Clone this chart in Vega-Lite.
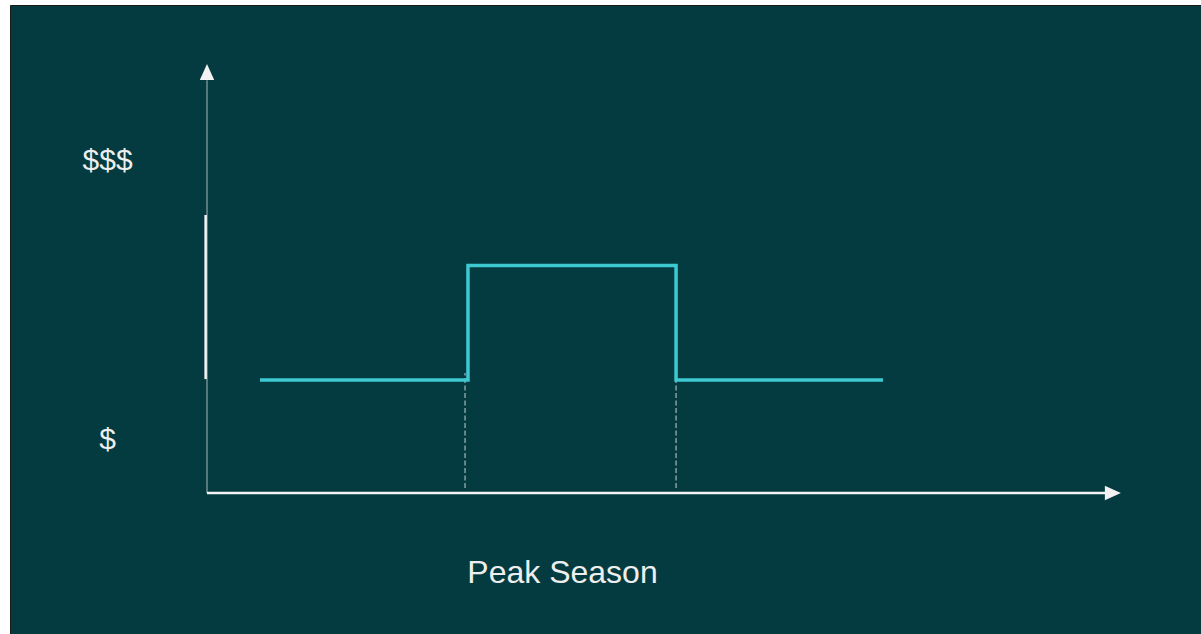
{
  "$schema": "https://vega.github.io/schema/vega-lite/v6.json",
  "autosize": {"type": "fit", "contains": "padding"},
  "width": 1201,
  "height": 634,
  "padding": {"left": 10, "top": 5, "right": 0, "bottom": 0},
  "background": "#ffffff",
  "config": {
    "view": {"fill": "#033b40", "stroke": "#1a1a1a", "strokeWidth": 1},
    "text": {"font": "Liberation Sans", "color": "#eeeeee"}
  },
  "datasets": {
    "price": [
      {"t": 5.79, "p": 26.28},
      {"t": 28.52, "p": 26.28},
      {"t": 28.52, "p": 52.91},
      {"t": 51.26, "p": 52.91},
      {"t": 51.26, "p": 26.28},
      {"t": 73.88, "p": 26.28}
    ],
    "bounds": [
      {"t": 28.2, "p0": 1.16, "p1": 27.9},
      {"t": 51.26, "p0": 1.16, "p1": 27.9}
    ],
    "yaxis": [{"t": 0, "p0": 0, "p1": 96}],
    "yband": [{"t": -0.15, "p0": 26.5, "p1": 64.65}],
    "xaxis": [{"t0": 0, "t1": 98.3, "p": 0}],
    "uparrow": [{"t": 0, "p": 97.9}],
    "rightarrow": [{"t": 99.0, "p": 0}],
    "pricelabels": [
      {"t": -10.87, "p": 75.12, "label": "$$$"},
      {"t": -10.87, "p": 10.23, "label": "$"}
    ],
    "seasonlabel": [
      {"t": 38.85, "p": -20.93, "label": "Peak Season"}
    ]
  },
  "layer": [
    {
      "data": {"name": "yaxis"},
      "mark": {"type": "rule", "color": "#a9b8b8", "strokeWidth": 1},
      "encoding": {
        "x": {"field": "t", "type": "quantitative", "scale": {"domain": [-21.53, 108.63], "nice": false, "zero": false}, "axis": null},
        "y": {"field": "p0", "type": "quantitative", "scale": {"domain": [-32.79, 113.49], "nice": false, "zero": false}, "axis": null},
        "y2": {"field": "p1"}
      }
    },
    {
      "data": {"name": "yband"},
      "mark": {"type": "rule", "color": "#f4f4f4", "strokeWidth": 2.5},
      "encoding": {
        "x": {"field": "t", "type": "quantitative"},
        "y": {"field": "p0", "type": "quantitative"},
        "y2": {"field": "p1"}
      }
    },
    {
      "data": {"name": "xaxis"},
      "mark": {"type": "rule", "color": "#f4f4f4", "strokeWidth": 2.5},
      "encoding": {
        "x": {"field": "t0", "type": "quantitative"},
        "x2": {"field": "t1"},
        "y": {"field": "p", "type": "quantitative"}
      }
    },
    {
      "data": {"name": "bounds"},
      "mark": {"type": "rule", "color": "#c9d3d3", "strokeWidth": 1, "strokeDash": [5, 2.5]},
      "encoding": {
        "x": {"field": "t", "type": "quantitative"},
        "y": {"field": "p0", "type": "quantitative"},
        "y2": {"field": "p1"}
      }
    },
    {
      "data": {"name": "price"},
      "mark": {"type": "line", "color": "#3ec9d1", "strokeWidth": 3.5, "strokeJoin": "miter", "strokeCap": "butt"},
      "encoding": {
        "x": {"field": "t", "type": "quantitative"},
        "y": {"field": "p", "type": "quantitative"},
        "order": {"value": 0}
      }
    },
    {
      "data": {"name": "uparrow"},
      "mark": {"type": "point", "shape": "M0,-1L-0.9,1L0.9,1Z", "filled": true, "color": "#f2f2f2", "opacity": 1, "size": 256},
      "encoding": {
        "x": {"field": "t", "type": "quantitative"},
        "y": {"field": "p", "type": "quantitative"}
      }
    },
    {
      "data": {"name": "rightarrow"},
      "mark": {"type": "point", "shape": "M1,0L-1,-0.9L-1,0.9Z", "filled": true, "color": "#f2f2f2", "opacity": 1, "size": 256},
      "encoding": {
        "x": {"field": "t", "type": "quantitative"},
        "y": {"field": "p", "type": "quantitative"}
      }
    },
    {
      "data": {"name": "pricelabels"},
      "mark": {"type": "text", "fontSize": 30, "align": "center", "baseline": "alphabetic", "color": "#eeeeee"},
      "encoding": {
        "x": {"field": "t", "type": "quantitative"},
        "y": {"field": "p", "type": "quantitative"},
        "text": {"field": "label"}
      }
    },
    {
      "data": {"name": "seasonlabel"},
      "mark": {"type": "text", "fontSize": 32, "align": "center", "baseline": "alphabetic", "color": "#eeeeee"},
      "encoding": {
        "x": {"field": "t", "type": "quantitative"},
        "y": {"field": "p", "type": "quantitative"},
        "text": {"field": "label"}
      }
    }
  ]
}
